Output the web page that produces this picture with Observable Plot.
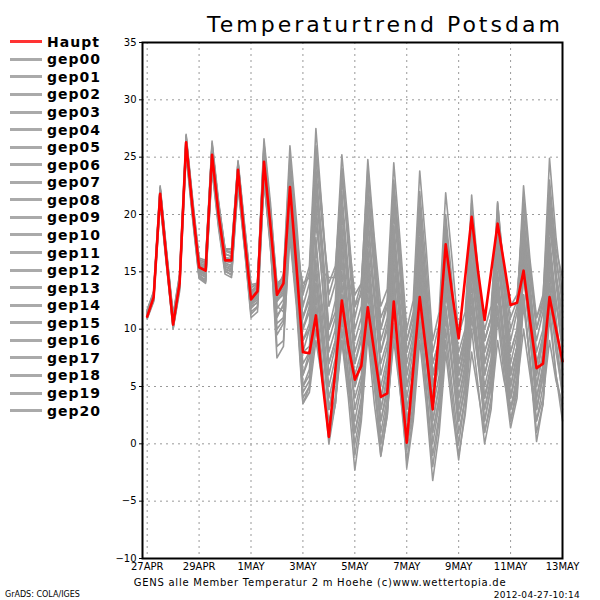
<!DOCTYPE html>
<html><head><meta charset="utf-8">
<script src="https://cdn.jsdelivr.net/npm/d3@7"></script>
<script src="https://cdn.jsdelivr.net/npm/@observablehq/plot@0.6"></script>
<style>
body{margin:0;background:#fff;}
#wrap{position:relative;width:600px;height:600px;overflow:hidden;font-family:"DejaVu Sans",sans-serif;color:#000;}
#chart{position:absolute;left:0;top:0;}
#title{position:absolute;left:207px;top:14px;font-size:22px;line-height:22px;letter-spacing:3px;white-space:nowrap;}
#legend{position:absolute;left:10px;top:33px;}
.row{height:17.57px;display:flex;align-items:center;}
.sw{width:32px;height:3px;margin-right:5px;}
.lab{font-weight:bold;font-size:14px;letter-spacing:1px;line-height:14px;}
#caption{position:absolute;left:320px;top:578px;transform:translateX(-50%);font-size:10px;letter-spacing:0.75px;white-space:nowrap;line-height:10px;}
#grads{position:absolute;left:5px;top:591px;font-size:8px;line-height:8px;white-space:nowrap;}
#date{position:absolute;right:20px;top:591px;font-size:9px;line-height:9px;letter-spacing:0.3px;white-space:nowrap;}
</style></head>
<body>
<div id="wrap">
  <div id="chart"></div>
  <div id="title">Temperaturtrend Potsdam</div>
  <div id="legend"></div>
  <div id="caption">GENS alle Member Temperatur 2 m Hoehe (c)www.wettertopia.de</div>
  <div id="grads">GrADS: COLA/IGES</div>
  <div id="date">2012-04-27-10:14</div>
</div>
<script>
// x tick positions in days after 27 APR 00Z, and their labels
const xTickDays = [0, 2, 4, 6, 8, 10, 12, 14, 16];
const xTickLabels = ["27APR", "29APR", "1MAY", "3MAY", "5MAY", "7MAY", "9MAY", "11MAY", "13MAY"];
const yTicks = [-10, -5, 0, 5, 10, 15, 20, 25, 30, 35];
const stepsPerDay = 4; // 6-hourly values

const Haupt = [11.1,12.8,21.8,16.0,10.4,14.0,26.3,20.5,15.4,15.1,25.2,20.0,16.0,16.0,23.9,18.0,12.6,13.3,24.6,19.0,13.0,14.0,22.4,15.5,
 8.0,7.9,11.2,5.5, 0.6,6.5,12.5,8.5, 5.6,6.8,11.9,8.0, 4.1,4.4,12.4,6.0, 0.1,6.5,12.8,8.0, 3.0,10.0,17.4,13.1, 9.2,14.5,19.8,15.0, 10.8,15.0,19.2,15.7, 12.1,12.3,15.1,10.7, 6.6,7.0,12.8,10.0, 7.2];

const gep00 = [11.3,12.9,22.0,16.3,10.8,14.2,26.0,20.3,15.0,14.8,25.0,19.8,15.6,15.4,23.5,17.8,12.2,12.9,24.2,18.6,12.4,13.2,21.5,15.0,
 6.0,7.5,14.0,9.5, 3.0,6.0,15.0,10.0, 5.0,7.5,17.0,11.0, 4.0,6.5,16.0,10.0, 3.0,6.0,14.0,9.0, 2.0,5.0,13.0,9.5, 5.0,8.0,16.0,11.5, 6.0,8.5,18.0,12.0, 5.0,8.0,19.0,13.0, 7.0,9.5,20.0,14.0, 9.0];
const gep01 = [11.6,13.2,22.3,16.5,11.2,14.6,26.9,21.0,15.8,15.5,26.2,20.8,16.8,16.6,24.6,18.8,13.4,13.6,25.5,19.8,13.8,14.6,24.0,17.2,
 13.5,15.5,27.5,20.0, 13.0,15.0,25.2,19.0, 12.0,14.0,24.0,17.5, 10.0,12.0,22.0,16.0, 8.0,10.5,20.5,14.0, 7.0,9.0,18.5,12.5, 6.0,8.5,17.5,12.0, 8.0,10.0,19.5,13.5, 9.0,11.5,21.5,15.0, 10.0,12.5,24.9,18.0, 13.0];
const gep02 = [11.0,12.5,21.2,15.6,10.1,13.6,25.5,19.9,14.6,14.2,24.0,19.2,15.0,14.8,22.8,17.2,11.5,12.0,23.3,18.0,11.2,12.0,20.2,14.0,
 4.0,5.0,10.0,6.0, 0.5,3.5,9.0,4.0, -2.3,2.0,9.5,3.5, -1.0,2.5,10.5,4.5, -0.5,3.0,11.0,5.0, -1.0,2.5,10.0,5.0, 0.0,4.0,12.0,7.0, 2.0,5.0,14.0,8.0, 2.0,4.5,13.0,7.0, 1.0,3.5,11.0,6.0, 3.0];
const gep03 = [11.4,13.0,22.1,16.2,10.9,14.4,26.5,20.8,15.9,15.7,25.8,20.5,16.5,16.4,24.2,18.5,13.0,13.8,25.9,20.2,12.5,13.0,23.0,16.0,
 10.0,12.0,24.0,17.0, 9.0,11.0,22.0,15.0, 7.0,9.5,20.0,13.0, 6.0,8.5,18.0,11.0, 3.0,6.0,15.0,9.0, 1.0,4.0,12.0,7.0, 2.0,5.0,13.0,8.0, 3.0,5.5,12.0,7.0, 2.0,5.0,15.0,9.0, 4.0,7.0,17.0,11.0, 6.0];
const gep04 = [11.2,12.7,21.5,15.8,10.3,13.8,25.8,20.1,14.9,14.5,24.6,19.5,15.2,15.0,23.0,17.5,12.0,12.3,23.0,17.0,10.5,11.0,19.5,13.0,
 3.5,4.5,9.0,5.5, 1.0,3.5,10.0,5.0, 1.0,3.5,12.0,6.5, 2.0,5.0,14.0,8.5, 4.0,7.0,17.0,11.0, 6.0,8.5,19.0,13.0, 8.0,10.0,21.7,15.0, 9.0,11.0,20.0,14.5, 10.0,12.0,22.5,16.0, 11.0,13.0,22.0,16.5, 12.0];
const gep05 = [11.5,13.1,22.4,16.6,11.0,14.5,26.7,21.2,16.0,15.9,26.0,21.0,17.0,16.9,24.5,19.0,13.6,14.0,26.2,20.5,14.0,14.5,25.0,18.5,
 13.0,15.0,26.0,20.0, 12.0,14.0,24.0,18.0, 11.0,13.5,24.8,18.0, 12.0,13.5,24.5,17.5, 10.0,12.5,23.8,17.0, 9.0,11.5,21.9,16.0, 9.5,11.5,20.0,14.5, 9.0,11.0,18.0,13.5, 8.0,10.0,17.0,12.5, 7.0,9.0,16.0,12.0, 10.0];
const gep06 = [11.3,12.8,21.9,16.0,10.6,14.1,26.2,20.6,15.3,15.2,25.1,20.1,15.8,15.5,23.6,18.0,12.8,13.5,24.8,19.2,12.8,13.6,22.0,15.5,
 8.0,8.5,15.0,9.0, 3.0,6.0,13.0,8.0, 4.0,6.0,14.0,8.5, 3.0,5.5,15.0,8.0, 1.0,4.5,14.0,9.0, 4.0,7.5,18.0,12.0, 7.0,9.5,19.0,13.0, 7.0,9.0,17.0,12.0, 6.0,8.5,16.0,11.0, 4.0,6.5,14.0,9.0, 5.0];
const gep07 = [11.1,12.6,21.6,15.9,10.5,13.9,25.9,20.0,14.8,14.6,24.8,19.6,15.5,15.1,23.2,17.6,12.4,13.0,24.0,18.2,11.8,12.6,21.0,14.5,
 9.0,10.5,20.0,14.0, 7.0,9.0,18.0,11.5, 5.0,7.0,13.0,8.0, 2.0,4.5,12.0,6.5, -2.1,2.0,9.0,3.5, -3.2,1.0,8.0,3.0, -1.4,3.0,10.0,5.0, 0.0,3.0,11.0,6.0, 1.4,4.0,13.0,7.0, 0.2,3.5,12.0,6.0, 2.0];
const gep08 = [11.7,13.3,22.5,16.8,11.3,14.8,27.0,21.4,16.2,16.0,26.4,21.2,17.0,17.0,24.7,19.2,13.9,14.0,26.6,21.0,13.5,14.8,26.0,19.5,
 12.0,14.0,25.0,19.0, 14.0,15.5,23.0,18.0, 13.0,14.0,22.0,16.5, 11.0,12.5,20.0,15.0, 9.0,11.0,19.0,13.5, 7.0,9.0,17.0,11.5, 5.0,7.5,15.0,10.0, 4.0,6.5,14.0,9.0, 4.0,7.0,15.0,10.0, 5.0,8.0,18.0,12.5, 8.0];
const gep09 = [10.9,12.4,21.0,15.4,10.0,13.3,25.2,19.6,14.4,14.0,23.8,18.8,14.8,14.5,22.5,17.0,11.0,11.5,22.8,17.5,9.5,10.5,21.0,15.0,
 5.0,6.0,12.0,6.5, 0.0,3.5,11.0,6.0, 2.0,5.0,15.0,9.0, 5.0,7.5,19.0,12.0, 6.0,9.0,21.0,14.0, 5.0,8.0,17.0,11.0, 3.0,6.0,14.0,8.5, 1.0,4.0,12.0,7.0, 3.0,6.0,16.0,10.5, 6.0,9.0,21.0,15.0, 11.0];
const gep10 = [11.4,13.0,22.2,16.4,11.0,14.3,26.4,20.7,15.6,15.4,25.5,20.3,16.2,16.2,24.0,18.3,13.2,13.6,25.0,19.5,13.2,14.2,23.5,16.5,
 11.0,12.5,22.0,16.0, 10.0,11.5,20.0,14.0, 8.0,10.0,18.0,12.5, 7.0,9.0,17.0,11.0, 5.0,7.0,15.0,10.0, 3.0,6.0,14.0,9.0, 4.0,7.0,17.0,12.0, 6.0,8.5,19.0,13.5, 7.0,9.5,20.0,14.0, 8.0,10.0,19.0,14.5, 11.5];
const gep11 = [11.2,12.8,21.7,16.1,10.7,14.0,26.1,20.4,15.2,14.9,24.9,19.9,15.7,15.6,23.7,17.9,12.5,13.1,24.4,18.8,12.0,11.5,18.5,12.5,
 4.5,5.5,11.0,6.0, 2.0,4.0,9.0,5.0, 0.0,3.0,11.0,5.5, -1.1,2.5,10.0,5.0, 0.0,3.5,12.0,6.0, 1.0,4.0,11.0,6.5, 2.0,5.0,12.0,7.5, 3.0,6.0,15.0,9.5, 5.0,7.5,17.0,11.0, 3.0,6.0,14.0,9.0, 4.0];
const gep12 = [11.5,13.1,22.3,16.4,10.9,14.3,26.6,20.9,15.7,15.6,25.6,20.6,16.6,16.3,24.3,18.6,13.3,13.9,25.7,20.0,13.6,14.3,24.5,17.5,
 10.0,11.5,23.0,16.0, 8.0,10.0,21.0,14.5, 9.0,11.0,23.0,16.0, 9.0,11.0,22.0,15.0, 7.0,9.5,20.0,13.5, 5.0,7.5,16.0,10.0, 2.0,5.0,13.0,8.0, 2.0,5.0,14.0,9.0, 4.0,7.0,18.0,12.0, 6.0,9.0,20.0,14.5, 10.0];
const gep13 = [11.0,12.6,21.4,15.7,10.2,13.7,25.6,20.0,14.7,14.3,24.3,19.3,15.3,15.0,23.1,17.4,11.8,12.4,23.6,17.8,10.0,10.8,20.0,13.5,
 7.0,8.0,16.0,10.0, 4.0,6.5,14.0,9.0, 3.0,5.5,12.0,7.5, 1.0,4.0,13.0,7.0, 2.0,5.0,16.0,10.0, 4.0,7.0,19.0,12.5, 6.0,9.0,21.0,14.0, 7.0,9.5,21.1,14.5, 6.0,8.5,19.0,12.0, 3.0,6.0,15.0,10.0, 6.5];
const gep14 = [11.6,13.2,22.2,16.6,11.1,14.7,26.8,21.1,16.1,15.8,26.1,20.9,16.9,16.7,24.5,18.9,13.7,13.9,26.0,20.4,13.0,13.8,24.0,16.8,
 14.0,14.5,19.0,15.0, 14.5,14.5,18.0,14.5, 12.0,13.0,21.0,15.5, 10.0,12.5,23.0,16.5, 9.0,11.5,22.0,15.5, 8.0,10.5,20.0,14.0, 7.0,9.5,18.0,13.0, 8.0,10.0,16.0,12.0, 8.0,10.0,16.5,13.0, 9.0,11.5,23.0,17.0, 14.5];
const gep15 = [11.1,12.7,21.6,15.9,10.4,13.8,25.9,20.2,15.0,14.7,24.7,19.7,15.4,15.3,23.3,17.7,12.3,12.8,23.8,18.4,11.0,12.2,22.5,15.5,
 6.0,8.0,18.0,11.0, 5.0,7.5,17.0,11.0, 6.0,8.0,16.0,10.0, 3.0,6.0,14.0,8.5, 2.0,5.0,13.0,8.0, 0.0,3.5,12.0,7.0, 1.0,4.0,11.0,7.0, 4.0,6.5,13.0,8.5, 3.0,5.5,12.0,7.5, 2.0,5.0,13.0,8.0, 4.5];
const gep16 = [11.3,12.9,22.0,16.2,10.8,14.2,26.3,20.6,15.5,15.3,25.3,20.2,16.1,15.9,23.8,18.1,12.9,13.4,24.9,19.4,12.9,13.9,23.8,17.0,
 8.0,10.0,21.0,14.0, 6.0,8.5,19.0,13.0, 7.0,9.0,19.0,13.5, 8.0,10.5,21.0,14.5, 6.0,8.5,18.0,12.5, 6.0,8.0,15.0,9.5, 4.0,6.5,15.0,10.5, 5.0,7.5,16.0,11.0, 6.0,8.5,18.0,12.0, 5.0,8.0,17.0,12.5, 8.5];
const gep17 = [11.4,12.9,21.9,16.3,10.9,14.1,26.4,20.7,15.4,15.0,25.0,20.0,15.9,15.8,23.4,17.8,12.1,12.6,23.5,17.2,8.5,9.0,18.0,12.0,
 3.5,5.0,13.0,7.0, 1.0,4.0,12.0,6.0, -1.0,2.5,10.0,5.0, 0.0,3.0,9.0,4.5, -1.5,2.5,10.0,4.5, -2.0,2.0,9.0,4.0, -1.0,2.5,8.0,4.5, 1.0,3.5,9.0,5.5, 3.0,5.0,10.0,6.0, 2.0,4.0,9.0,5.5, 3.5];
const gep18 = [11.2,12.7,21.8,16.0,10.6,14.0,26.0,20.4,15.1,14.9,25.2,20.1,16.0,16.1,24.1,18.2,12.7,13.2,24.5,19.0,12.6,13.4,22.8,16.2,
 9.0,10.0,17.0,12.0, 7.0,9.0,16.0,10.5, 5.0,7.5,16.0,10.0, 4.0,7.0,17.0,11.5, 5.0,8.0,18.0,12.0, 6.0,8.5,17.0,11.5, 7.0,9.0,19.0,13.5, 9.0,11.0,21.0,15.0, 11.0,12.5,21.0,15.5, 10.0,12.0,21.0,16.0, 12.5];
const gep19 = [11.5,13.0,22.1,16.4,11.0,14.4,26.5,20.8,15.7,15.5,25.7,20.4,16.3,16.0,23.9,18.4,13.1,13.7,25.3,19.8,13.4,14.1,23.6,16.6,
 11.0,13.0,23.0,17.5, 10.0,12.5,24.0,17.0, 10.0,12.0,21.0,15.0, 8.0,10.0,19.0,13.0, 8.0,10.0,17.0,11.5, 5.0,7.5,15.0,10.5, 6.0,8.5,18.0,13.0, 10.0,12.0,20.0,15.5, 12.0,13.0,19.0,14.5, 11.0,12.5,19.0,15.0, 15.0];
const gep20 = [11.0,12.5,21.3,15.6,10.1,13.5,25.4,19.8,14.5,14.1,24.1,19.0,15.1,14.7,22.7,17.1,11.3,11.9,23.0,17.6,7.5,8.5,19.0,13.0,
 5.0,6.5,14.0,8.5, 3.0,5.5,13.0,7.5, 1.0,4.0,11.0,6.0, 0.0,3.5,12.0,6.5, 1.0,4.0,13.0,7.5, 2.0,5.0,14.0,8.5, 3.0,6.0,16.0,10.0, 4.0,7.0,17.0,11.0, 4.0,6.5,15.0,9.5, 3.0,6.0,16.0,10.5, 6.0];

const memberNames = ["gep00","gep01","gep02","gep03","gep04","gep05","gep06","gep07","gep08","gep09","gep10",
  "gep11","gep12","gep13","gep14","gep15","gep16","gep17","gep18","gep19","gep20"];
const memberValues = [gep00,gep01,gep02,gep03,gep04,gep05,gep06,gep07,gep08,gep09,gep10,
  gep11,gep12,gep13,gep14,gep15,gep16,gep17,gep18,gep19,gep20];

const memberRows = [];
memberNames.forEach((name, k) => memberValues[k].forEach((v, i) => memberRows.push({t: i / stepsPerDay, v, m: name})));
const hauptRows = Haupt.map((v, i) => ({t: i / stepsPerDay, v}));

const chart = Plot.plot({
  width: 600, height: 600,
  marginLeft: 142, marginRight: 38, marginTop: 42, marginBottom: 42,
  style: {fontFamily: "DejaVu Sans, sans-serif", fontSize: "10px", background: "transparent", color: "#000"},
  x: {domain: [-0.18, 16]},
  y: {domain: [-10, 35]},
  marks: [
    Plot.gridX(xTickDays, {stroke: "#999", strokeOpacity: 1, strokeWidth: 1, strokeDasharray: "2,4"}),
    Plot.gridY(yTicks, {stroke: "#999", strokeOpacity: 1, strokeWidth: 1, strokeDasharray: "2,4"}),
    Plot.line(memberRows, {x: "t", y: "v", z: "m", stroke: "#999", strokeWidth: 1.6}),
    Plot.line(hauptRows, {x: "t", y: "v", stroke: "#f00", strokeWidth: 2.6}),
    Plot.frame({stroke: "#000", strokeWidth: 2}),
    Plot.axisX(xTickDays, {tickFormat: d => xTickLabels[xTickDays.indexOf(d)], tickSize: 0, tickPadding: 4, label: null, fontSize: 10}),
    Plot.axisY(yTicks, {tickSize: 3, tickPadding: 3, label: null, fontSize: 10})
  ]
});
document.getElementById("chart").appendChild(chart);

// legend
const legendNames = ["Haupt", ...memberNames];
const legendColors = ["#f33", ...memberNames.map(() => "#aaa")];
const lg = document.getElementById("legend");
legendNames.forEach((n, k) => {
  const row = document.createElement("div");
  row.className = "row";
  const sw = document.createElement("div");
  sw.className = "sw";
  sw.style.background = legendColors[k];
  const lab = document.createElement("span");
  lab.className = "lab";
  lab.textContent = n;
  row.appendChild(sw); row.appendChild(lab);
  lg.appendChild(row);
});
</script>
</body></html>
